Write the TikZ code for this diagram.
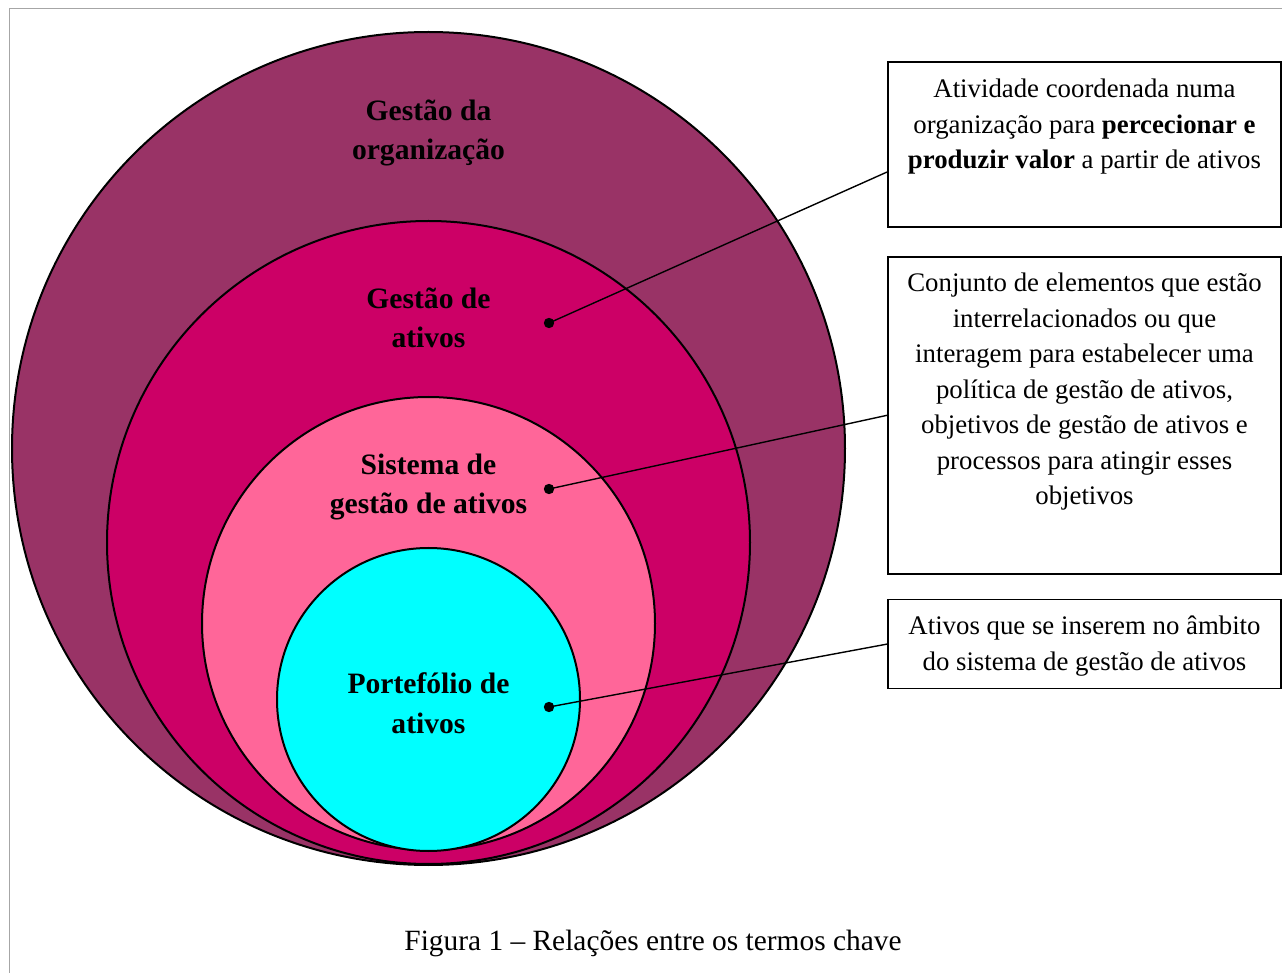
\documentclass[tikz,border=0pt]{standalone}
\usepackage{fontspec}
\setmainfont{Liberation Serif}
\usetikzlibrary{positioning}

\definecolor{orgplum}{HTML}{993366}
\definecolor{ativmag}{HTML}{CC0066}
\definecolor{sispink}{HTML}{FF6699}
\definecolor{portcyan}{HTML}{00FFFF}

\begin{document}
\begin{tikzpicture}[x=0.5pt,y=-0.5pt,
  ring/.style={circle,draw,line width=1pt,inner sep=0pt},
  ringlabel/.style={align=center,font=\fontsize{14.8}{19.75}\selectfont\bfseries},
  dot/.style={circle,fill,inner sep=0pt,minimum size=5.2pt},
  infobox/.style={draw,line width=0.9pt,minimum width=196.5pt,inner sep=0pt},
  infotext/.style={align=center,font=\fontsize{13.4}{17.75}\selectfont}]

\useasboundingbox (0,0) rectangle (1282,973);
\draw[gray!70] (9,973) -- (9,8) -- (1282,8);

% nested circles
\node[ring,fill=orgplum,minimum size=416.5pt] (org) at (428.5,448.5) {};
\node[ring,fill=ativmag,minimum size=321.5pt] (gest) at (428.5,542.5) {};
\node[ring,fill=sispink,minimum size=226.5pt] (sist) at (428.5,623.5) {};
\node[ring,fill=portcyan,minimum size=151.5pt] (port) at (428.5,699.5) {};

\node[ringlabel] (orgtxt) at (428.5,133) {Gestão da\\organização};
\node[ringlabel] (gesttxt) at (428.5,318) {Gestão de\\ativos};
\node[ringlabel] (sisttxt) at (428.5,487) {Sistema de\\gestão de ativos};
\node[ringlabel] (porttxt) at (428.5,703) {Portefólio de\\ativos};

\node[dot] (d1) at (549,323) {};
\node[dot] (d2) at (549,489) {};
\node[dot] (d3) at (549,707) {};

% definition boxes
\node[infobox,minimum height=82.5pt] (box1) at (1084.5,144.5) {};
\node[infobox,minimum height=158.5pt,below=14pt of box1] (box2) {};
\node[infobox,minimum height=44.5pt,below=12pt of box2] (box3) {};

\node[infotext] (t1) at (1084.5,127) {Atividade coordenada numa\\organização para \textbf{percecionar e}\\\textbf{produzir valor} a partir de ativos};
\node[infotext] (t2) at (1084.5,392) {Conjunto de elementos que estão\\interrelacionados ou que\\interagem para estabelecer uma\\política de gestão de ativos,\\objetivos de gestão de ativos e\\processos para atingir esses\\objetivos};
\node[infotext] (t3) at (1084.5,646) {Ativos que se inserem no âmbito\\do sistema de gestão de ativos};

\draw[line width=0.7pt] (d1.center) -- ([yshift=-13.75pt]box1.west);
\draw[line width=0.7pt] (d2.center) -- (box2.west);
\draw[line width=0.7pt] (d3.center) -- (box3.west);

\node[font=\fontsize{14.7}{17}\selectfont] (cap) at (653,943) {Figura 1 – Relações entre os termos chave};

\end{tikzpicture}
\end{document}
